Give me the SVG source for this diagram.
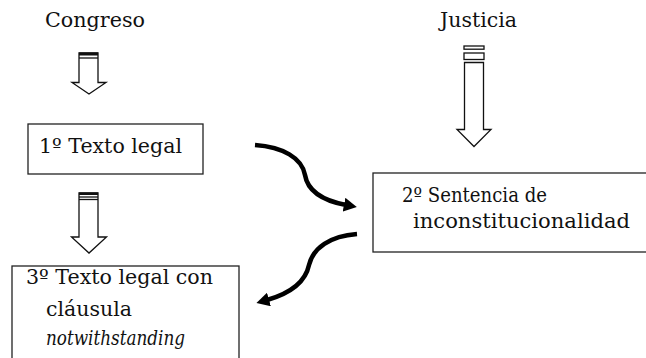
<svg xmlns="http://www.w3.org/2000/svg" width="646" height="358" viewBox="0 0 646 358">
<style>
.t{font-family:'DejaVu Serif','Liberation Serif',serif;font-size:20px;fill:#111}
.box{fill:#fff;stroke:#222;stroke-width:1.3}
.blk{fill:#fff;stroke:#111;stroke-width:1.3}
.bar{fill:#111}
.curve{fill:none;stroke:#000;stroke-width:4.5;stroke-linecap:butt}
</style>
<defs>
<marker id="ah" markerUnits="userSpaceOnUse" markerWidth="14" markerHeight="14" refX="2" refY="7" orient="auto">
<path d="M0,0 L13,7 L0,14 Z" fill="#000"/>
</marker>
</defs>
<rect width="646" height="358" fill="#fff"/>

<g id="congreso">
<text class="t" x="45" y="27" textLength="100" lengthAdjust="spacingAndGlyphs">Congreso</text>
</g>
<g id="justicia">
<text class="t" x="440" y="27" textLength="77" lengthAdjust="spacingAndGlyphs">Justicia</text>
</g>

<g id="arrow-congreso">
<path class="blk" d="M79,53 V82.5 H72 L89,94 L106,82.5 H98 V53 Z"/>
<rect class="bar" x="79" y="52.5" width="19" height="3"/>
<line x1="79" y1="58" x2="98" y2="58" stroke="#111" stroke-width="1.3"/>
</g>

<g id="arrow-justicia">
<rect class="blk" x="464" y="46" width="20" height="3.2" stroke-width="1.6"/>
<rect class="blk" x="464" y="53" width="20" height="6.5"/>
<path class="blk" d="M464.5,62.5 V129.5 H457 L474,146.5 L491,129.5 H483.5 V62.5 Z"/>
</g>

<g id="arrow-left-lower">
<path class="blk" d="M79,193 V237 H71.5 L89,253 L106.5,237 H98 V193 Z"/>
<rect class="bar" x="79" y="192.5" width="19" height="2.5"/>
<line x1="79" y1="197" x2="98" y2="197" stroke="#111" stroke-width="1.3"/>
<line x1="79" y1="199.5" x2="98" y2="199.5" stroke="#111" stroke-width="1.3"/>
</g>

<g id="node1">
<rect class="box" x="28" y="124" width="175" height="50"/>
<text class="t" x="39" y="153" textLength="143" lengthAdjust="spacingAndGlyphs">1º Texto legal</text>
</g>

<g id="node2">
<rect class="box" x="373" y="173" width="280" height="79"/>
<text class="t" x="402" y="202" textLength="145" lengthAdjust="spacingAndGlyphs">2º Sentencia de</text>
<text class="t" x="413" y="228" textLength="217" lengthAdjust="spacingAndGlyphs">inconstitucionalidad</text>
</g>

<g id="node3">
<rect class="box" x="12" y="266" width="227" height="100"/>
<text class="t" x="26" y="284" textLength="187" lengthAdjust="spacingAndGlyphs">3º Texto legal con</text>
<text class="t" x="46" y="316" textLength="86" lengthAdjust="spacingAndGlyphs">cláusula</text>
<text class="t" x="46" y="345" textLength="139" lengthAdjust="spacingAndGlyphs" font-style="italic">notwithstanding</text>
</g>

<g id="connectors">
<path class="curve" d="M255,145 C283,147 302,158 305,175 C308,193 325,201 346,205" marker-end="url(#ah)"/>
<path class="curve" d="M357,234 C330,236 313,248 309,265 C305,284 288,294 267,300" marker-end="url(#ah)"/>
</g>
</svg>
